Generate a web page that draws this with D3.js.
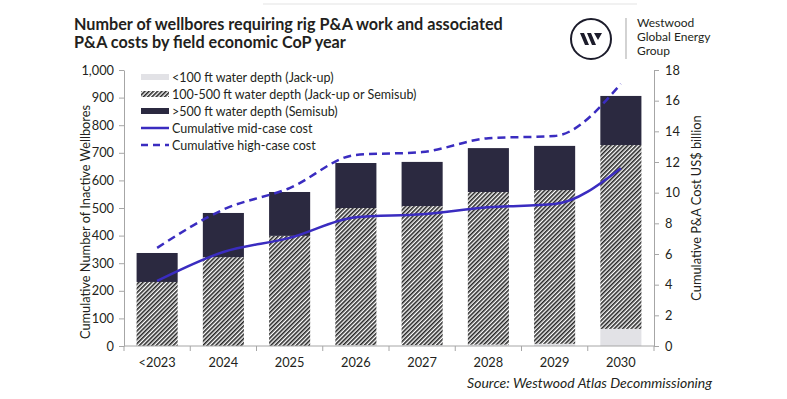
<!DOCTYPE html>
<html>
<head>
<meta charset="utf-8">
<script src="https://cdn.jsdelivr.net/npm/d3@7"></script>
<style>
  body { margin: 0; background: #fff; }
  svg { display: block; font-family: Lato, "Open Sans", sans-serif; }
</style>
</head>
<body>
<div id="chart"></div>
<script>
// data
const categories = ["<2023", "2024", "2025", "2026", "2027", "2028", "2029", "2030"]
const shallow = [0, 0, 0, 3, 3, 5, 8, 62]              // <100 ft (Jack-up)
const middle = [232, 322, 399, 497, 504, 553, 557, 666] // 100-500 ft
const deep = [105, 160, 159, 163, 160, 159, 160, 178]   // >500 ft
const midCost = [4.24, 6.13, 7.05, 8.4, 8.6, 9.05, 9.26, 11.6]
const highCost = [6.4, 8.9, 10.3, 12.46, 12.65, 13.55, 13.7, 17.1]
const leftTicks = [0, 100, 200, 300, 400, 500, 600, 700, 800, 900, 1000]
const rightTicks = [0, 2, 4, 6, 8, 10, 12, 14, 16, 18]
const legendLabels = [
  "<100 ft water depth (Jack-up)",
  "100-500 ft water depth (Jack-up or Semisub)",
  ">500 ft water depth (Semisub)",
  "Cumulative mid-case cost",
  "Cumulative high-case cost"
]

const width = 787
const height = 399
const marginLeft = 124
const marginRight = 133      // right axis sits at x = 654
const yTop = 70
const yBottom = 346

const lightColor = "#e2e2e6"
const darkColor = "#2b2940"
const lineColor = "#3a2cc0"
const textColor = "#231f20"
const axisColor = "#a6a6a6"

const svg = d3.select("#chart")
  .append("svg")
  .attr("width", width)
  .attr("height", height)
  .attr("viewBox", [0, 0, width, height])

// hatch pattern
const defs = svg.append("defs")
defs.append("pattern")
  .attr("id", "hatch")
  .attr("patternUnits", "userSpaceOnUse")
  .attr("width", 3)
  .attr("height", 3)
  .attr("patternTransform", "rotate(45)")
  .call(p => p.append("rect").attr("width", 3).attr("height", 3).attr("fill", "#fff"))
  .call(p => p.append("rect").attr("width", 1.6).attr("height", 3).attr("fill", "#262626"))

const xScale = d3.scaleBand(categories, [marginLeft, width - marginRight]).paddingInner(0.38).paddingOuter(0.19)
const yLeft = d3.scaleLinear([0, 1000], [yBottom, yTop])
const yRight = d3.scaleLinear([0, 18], [yBottom, yTop])

// top hairline + title
svg.append("line")
  .attr("x1", 263).attr("x2", 637).attr("y1", 4).attr("y2", 4)
  .attr("stroke", "#ececec").attr("stroke-width", 1.5)

svg.append("text")
  .attr("x", 74)
  .attr("fill", textColor)
  .attr("font-size", 16.2)
  .attr("font-weight", 700)
  .selectAll("tspan")
  .data(["Number of wellbores requiring rig P&A work and associated", "P&A costs by field economic CoP year"])
  .join("tspan")
  .attr("x", 74)
  .attr("y", (d, i) => 30 + i * 18)
  .text(d => d)

// logo
const logo = svg.append("g").attr("transform", "translate(591,39)")
logo.append("circle").attr("r", 20).attr("fill", "none").attr("stroke", "#1c1c2b").attr("stroke-width", 2)
logo.append("path")
  .attr("d", "M-11,-6 L-7,-6 L-2,6 L-6,6 Z M-4,-6 L0,-6 L5,6 L1,6 Z M3,-6 L11,-6 L7,1 Z")
  .attr("fill", "#1c1c2b")
svg.append("line")
  .attr("x1", 626).attr("x2", 626).attr("y1", 18).attr("y2", 59)
  .attr("stroke", "#b5b5b5").attr("stroke-width", 1.2)
svg.append("g")
  .attr("fill", textColor)
  .attr("font-size", 12)
  .selectAll("text")
  .data(["Westwood", "Global Energy", "Group"])
  .join("text")
  .attr("x", 637)
  .attr("y", (d, i) => 27 + i * 14)
  .text(d => d)

// stacked bars
const stackData = categories.map((c, i) => ({cat: c, shallow: shallow[i], middle: middle[i], deep: deep[i]}))
const series = d3.stack().keys(["shallow", "middle", "deep"])(stackData)
const fills = {shallow: lightColor, middle: "url(#hatch)", deep: darkColor}

svg.append("g")
  .selectAll("g")
  .data(series)
  .join("g")
  .attr("fill", d => fills[d.key])
  .selectAll("rect")
  .data(d => d)
  .join("rect")
  .attr("x", d => xScale(d.data.cat))
  .attr("width", xScale.bandwidth())
  .attr("y", d => yLeft(d[1]))
  .attr("height", d => yLeft(d[0]) - yLeft(d[1]))

// axes
const axisStyle = g => {
  g.selectAll(".domain").attr("stroke", axisColor)
  g.selectAll(".tick line").attr("stroke", axisColor)
  g.selectAll(".tick text").attr("fill", textColor).attr("font-size", 12.8).attr("font-family", "Lato, sans-serif")
}

svg.append("g")
  .attr("transform", `translate(${marginLeft},0)`)
  .call(d3.axisLeft(yLeft).tickValues(leftTicks).tickFormat(d3.format(",")).tickSize(5).tickSizeOuter(0).tickPadding(5))
  .call(axisStyle)

svg.append("g")
  .attr("transform", `translate(${width - marginRight},0)`)
  .call(d3.axisRight(yRight).tickValues(rightTicks).tickSize(5).tickSizeOuter(0).tickPadding(6))
  .call(axisStyle)

// x axis: ticks at the band boundaries
const bounds = d3.range(categories.length + 1).map(i => marginLeft + i * xScale.step())
const xAxisG = svg.append("g").attr("transform", `translate(0,${yBottom})`)
xAxisG.append("line")
  .attr("x1", marginLeft).attr("x2", width - marginRight)
  .attr("stroke", axisColor)
xAxisG.selectAll("line.t")
  .data(bounds)
  .join("line")
  .attr("class", "t")
  .attr("x1", d => d).attr("x2", d => d).attr("y1", 0).attr("y2", 5)
  .attr("stroke", axisColor)
xAxisG.selectAll("text")
  .data(categories)
  .join("text")
  .attr("x", d => xScale(d) + xScale.bandwidth() / 2)
  .attr("y", 21)
  .attr("text-anchor", "middle")
  .attr("fill", textColor)
  .attr("font-size", 12.8)
  .text(d => d)

// axis titles
svg.append("text")
  .attr("transform", `translate(90,222) rotate(-90)`)
  .attr("text-anchor", "middle")
  .attr("fill", textColor)
  .attr("font-size", 12.8)
  .text("Cumulative Number of Inactive Wellbores")

svg.append("text")
  .attr("transform", `translate(701,208) rotate(-90)`)
  .attr("text-anchor", "middle")
  .attr("fill", textColor)
  .attr("font-size", 12.8)
  .text("Cumulative P&A Cost US$ billion")

// cost lines
const line = d3.line()
  .curve(d3.curveMonotoneX)
  .x((d, i) => xScale(categories[i]) + xScale.bandwidth() / 2)
  .y(d => yRight(d))

svg.append("path")
  .attr("d", line(midCost))
  .attr("fill", "none")
  .attr("stroke", lineColor)
  .attr("stroke-width", 2.5)

svg.append("path")
  .attr("d", line(highCost))
  .attr("fill", "none")
  .attr("stroke", lineColor)
  .attr("stroke-width", 2.5)
  .attr("stroke-dasharray", "8,5")

// legend
const legend = svg.append("g").attr("transform", "translate(141,77)")
const rowH = 17
legendLabels.forEach((label, i) => {
  const row = legend.append("g").attr("transform", `translate(0,${i * rowH})`)
  if (i < 3) {
    row.append("rect")
      .attr("x", 0).attr("y", -3).attr("width", 28).attr("height", 6)
      .attr("fill", [lightColor, "url(#hatch)", darkColor][i])
  } else {
    row.append("line")
      .attr("x1", 0).attr("x2", 28).attr("y1", 0).attr("y2", 0)
      .attr("stroke", lineColor).attr("stroke-width", 2.5)
      .attr("stroke-dasharray", i === 4 ? "7,5" : null)
  }
  row.append("text")
    .attr("x", 31)
    .attr("y", 4.5)
    .attr("fill", textColor)
    .attr("font-size", 12.5)
    .text(label)
})

// source
svg.append("text")
  .attr("x", 712)
  .attr("y", 388)
  .attr("text-anchor", "end")
  .attr("fill", textColor)
  .attr("font-size", 14)
  .attr("font-style", "italic")
  .text("Source: Westwood Atlas Decommissioning")
</script>
</body>
</html>
